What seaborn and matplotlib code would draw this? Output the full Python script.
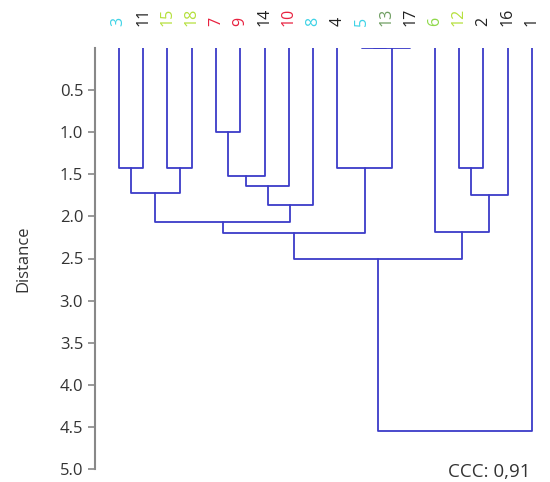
import matplotlib
matplotlib.use("Agg")
import matplotlib.pyplot as plt
import seaborn as sns
import pandas as pd

# Leaf order (left to right) and their label colours
leaf_labels = ['3', '11', '15', '18', '7', '9', '14', '10', '8', '4', '5', '13', '17', '6', '12', '2', '16', '1']
leaf_colors = ['#3fd3e6', '#222222', '#b5e03c', '#b5e03c', '#e8213f', '#e8213f', '#222222', '#e8213f', '#3fd3e6',
               '#222222', '#3fd3e6', '#6f9e62', '#222222', '#8fd94a', '#b5e03c', '#222222', '#222222', '#222222']

# Merges: (left cluster id, right cluster id, distance); leaves are 0..17, new clusters 18, 19, ...
merge_left = [0, 2, 18, 4, 21, 22, 23, 20, 10, 26, 9, 25, 14, 30, 13, 29, 33]
merge_right = [1, 3, 19, 5, 6, 7, 8, 24, 11, 12, 27, 28, 15, 16, 31, 32, 17]
merge_dist = [1.42, 1.42, 1.72, 1.00, 1.52, 1.64, 1.87, 2.07, 0.0, 0.0, 1.42, 2.20, 1.42, 1.75, 2.18, 2.50, 4.55]

y_ticks = [0.5, 1.0, 1.5, 2.0, 2.5, 3.0, 3.5, 4.0, 4.5, 5.0]
ccc_text = "CCC: 0,91"

sns.set_theme(style="white")
plt.rcParams['font.family'] = ['Open Sans', 'DejaVu Sans']

# build segments of the dendrogram
pos = {i: (float(i), 0.0) for i in range(len(leaf_labels))}
rows = []
n = len(leaf_labels)
for k, (a, b, h) in enumerate(zip(merge_left, merge_right, merge_dist)):
    xa, ha = pos[a]
    xb, hb = pos[b]
    for j, (x, y) in enumerate([(xa, ha), (xa, h), (xb, h), (xb, hb)]):
        rows.append({'seg': k, 'order': j, 'x': x, 'y': y})
    pos[n + k] = ((xa + xb) / 2.0, h)
df = pd.DataFrame(rows)

fig = plt.figure(figsize=(5.5, 4.82), dpi=100)
ax = fig.add_axes([95 / 550, 1 - 469 / 482, (544 - 95) / 550, (469 - 48) / 482])

sns.lineplot(data=df, x='x', y='y', units='seg', estimator=None, sort=False,
             color='#3c3cc8', linewidth=1.3, ax=ax)

ax.set_xlim(-0.98, 17.5)
ax.set_ylim(5.0, 0.0)

ax.set_yticks(y_ticks)
ax.set_yticklabels([f"{t:.1f}" for t in y_ticks], fontsize=12, color='#333333')
ax.tick_params(axis='y', which='both', left=True, length=5, width=1.2, color='#888888', pad=3.5)
ax.set_ylabel('Distance', fontsize=12, color='#333333')
ax.yaxis.set_label_coords((31 - 95) / 449, 0.5)

ax.xaxis.tick_top()
ax.set_xticks(range(n))
ax.set_xticklabels(leaf_labels, rotation=90, fontsize=11.5)
for lab, c in zip(ax.get_xticklabels(), leaf_colors):
    lab.set_color(c)
ax.tick_params(axis='x', which='both', top=False, bottom=False, length=0, pad=16)
ax.set_xlabel('')

for s in ['top', 'right', 'bottom']:
    ax.spines[s].set_visible(False)
ax.spines['left'].set_color('#888888')
ax.spines['left'].set_linewidth(1.5)

fig.text(530 / 550, 1 - 472 / 482, ccc_text, ha='right', va='center', fontsize=13.5, color='#333333')

fig.savefig('out.png', dpi=100)
